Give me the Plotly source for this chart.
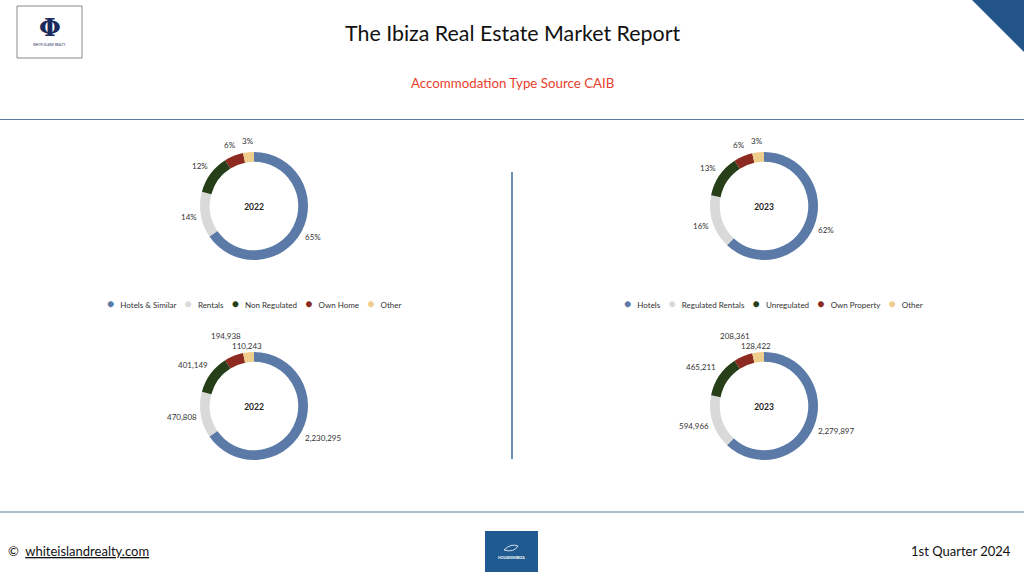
import math
import plotly.graph_objects as go

W, H = 1024, 576

labels_2022 = ["Hotels & Similar", "Rentals", "Non Regulated", "Own Home", "Other"]
values_2022 = [2230295, 470808, 401149, 194938, 110243]
labels_2023 = ["Hotels", "Regulated Rentals", "Unregulated", "Own Property", "Other"]
values_2023 = [2279897, 594966, 465211, 208361, 128422]
colors = ["#5B7AA7", "#D9D9D9", "#263F19", "#8C2A20", "#EFCD8C"]

title_text = "The Ibiza Real Estate Market Report"
subtitle_text = "Accommodation Type Source CAIB"
footer_left = "©  <u>whiteislandrealty.com</u>"
footer_right = "1st Quarter 2024"

FONT = "Lato, 'Open Sans', sans-serif"
R_OUT = 54
LBL_SIZE = 8


def px(x):
    return x / W


def py(y):
    return 1 - y / H


def dom(cx, cy, r=R_OUT):
    return dict(x=[px(cx - r), px(cx + r)], y=[py(cy + r), py(cy - r)])


def text_w(s):
    w = 0.0
    for ch in s:
        if ch.isdigit():
            w += 0.58
        elif ch == ",":
            w += 0.23
        elif ch == "%":
            w += 0.78
        else:
            w += 0.55
    return w * LBL_SIZE


fig = go.Figure()
annotations = []
shapes = []

pies = [
    (labels_2022, values_2022, "2022", 254, 206, "pct", 16),
    (labels_2023, values_2023, "2023", 764, 206, "pct", 16),
    (labels_2022, values_2022, "2022", 254, 406, "val", 20),
    (labels_2023, values_2023, "2023", 764, 406, "val", 20),
]
for lab, val, yr, cx, cy, mode, box_h in pies:
    fig.add_trace(go.Pie(
        labels=lab, values=val, hole=0.82, sort=False, direction="clockwise",
        rotation=0, domain=dom(cx, cy),
        marker=dict(colors=colors, line=dict(width=0)),
        textinfo="none",
        title=dict(text="<b>" + yr + "</b>", position="middle center",
                   font=dict(size=8.5, color="#222222", family=FONT)),
        showlegend=False, automargin=False,
    ))
    # data labels placed just outside each slice (computed from the values)
    total = float(sum(val))
    cum = 0.0
    items = []
    for v in val:
        frac = v / total
        mid = cum + frac / 2
        cum += frac
        th = 2 * math.pi * mid
        ux, uy = math.sin(th), -math.cos(th)
        txt = "%d%%" % round(frac * 100) if mode == "pct" else "{:,}".format(v)
        w = text_w(txt) + 1.5
        m = max(abs(ux), abs(uy))
        off = 4
        lx = cx + (R_OUT - 1 + off) * ux + (w / 2) * ux / m
        ly = cy + (R_OUT - 1 + off) * uy + (box_h / 2) * uy / m
        items.append([txt, lx, ly, w])
    # simple collision avoidance between neighbouring labels
    for i in range(len(items) - 1):
        a, b = items[i], items[i + 1]
        if abs(a[1] - b[1]) < (a[3] + b[3]) / 2 and abs(a[2] - b[2]) < 10:
            mean = (a[2] + b[2]) / 2
            a[2], b[2] = mean - 5, mean + 5
    for txt, lx, ly, w in items:
        annotations.append(dict(x=px(lx), y=py(ly), xref="paper", yref="paper",
                                text=txt, showarrow=False,
                                font=dict(size=LBL_SIZE, color="#333333", family=FONT),
                                xanchor="center", yanchor="middle"))


def legend_text(labs):
    parts = []
    for lab, c in zip(labs, colors):
        parts.append("<span style='color:%s;font-size:12px'>●</span>   %s" % (c, lab))
    return "    ".join(parts)


annotations.append(dict(x=px(254), y=py(303.5), xref="paper", yref="paper",
                        text=legend_text(labels_2022), showarrow=False,
                        font=dict(size=8, color="#333333", family=FONT),
                        xanchor="center", yanchor="middle"))
annotations.append(dict(x=px(773), y=py(303.5), xref="paper", yref="paper",
                        text=legend_text(labels_2023), showarrow=False,
                        font=dict(size=8, color="#333333", family=FONT),
                        xanchor="center", yanchor="middle"))

# Titles
annotations.append(dict(x=0.5, y=py(33), xref="paper", yref="paper", text=title_text,
                        showarrow=False, font=dict(size=21.4, color="#111111", family=FONT),
                        xanchor="center", yanchor="middle"))
annotations.append(dict(x=0.5, y=py(83), xref="paper", yref="paper", text=subtitle_text,
                        showarrow=False, font=dict(size=13.3, color="#E8402C", family=FONT),
                        xanchor="center", yanchor="middle"))

# Footer
annotations.append(dict(x=px(6), y=py(551), xref="paper", yref="paper", text=footer_left,
                        showarrow=False, font=dict(size=13, color="#111111", family=FONT),
                        xanchor="left", yanchor="middle"))
annotations.append(dict(x=px(1013), y=py(551), xref="paper", yref="paper", text=footer_right,
                        showarrow=False, font=dict(size=13, color="#111111", family=FONT),
                        xanchor="right", yanchor="middle"))

# Top-left logo
shapes.append(dict(type="rect", xref="paper", yref="paper", x0=px(17), x1=px(82), y0=py(58), y1=py(6),
                   line=dict(color="#8A8A8A", width=1), fillcolor="white"))
annotations.append(dict(x=px(49.5), y=py(27), xref="paper", yref="paper", text="<b>Φ</b>",
                        showarrow=False, font=dict(size=25, color="#1B2A5C", family="DejaVu Serif"),
                        xanchor="center", yanchor="middle"))
annotations.append(dict(x=px(49.5), y=py(45), xref="paper", yref="paper", text="WHITE ISLAND REALTY",
                        showarrow=False, font=dict(size=3, color="#1B2A5C", family=FONT),
                        xanchor="center", yanchor="middle"))

# Top-right triangle
shapes.append(dict(type="path", xref="paper", yref="paper",
                   path="M %f,%f L %f,%f L %f,%f Z" % (px(972), py(0), px(1024), py(0), px(1024), py(52)),
                   fillcolor="#22548A", line=dict(width=0)))

# Separator lines
shapes.append(dict(type="line", xref="paper", yref="paper", x0=0, x1=1, y0=py(119.5), y1=py(119.5),
                   line=dict(color="#5A7AA5", width=1.2)))
shapes.append(dict(type="line", xref="paper", yref="paper", x0=0, x1=1, y0=py(512), y1=py(512),
                   line=dict(color="#5A7AA5", width=1.2)))
shapes.append(dict(type="line", xref="paper", yref="paper", x0=px(512), x1=px(512), y0=py(172), y1=py(459),
                   line=dict(color="#3E67A0", width=1.5)))

# Bottom logo
shapes.append(dict(type="rect", xref="paper", yref="paper", x0=px(485), x1=px(538), y0=py(572), y1=py(531),
                   fillcolor="#1F5A90", line=dict(width=0)))
shapes.append(dict(type="path", xref="paper", yref="paper",
                   path="M %f,%f Q %f,%f %f,%f Q %f,%f %f,%f Z" % (
                       px(504), py(550), px(511), py(543), px(518), py(546),
                       px(514), py(553), px(504), py(550)),
                   fillcolor="rgba(0,0,0,0)", line=dict(color="white", width=0.8)))
annotations.append(dict(x=px(511.5), y=py(558), xref="paper", yref="paper", text="<b>HOUSESINIBIZA</b>",
                        showarrow=False, font=dict(size=3.5, color="white", family=FONT),
                        xanchor="center", yanchor="middle"))

fig.update_layout(
    width=W, height=H, margin=dict(l=0, r=0, t=0, b=0),
    paper_bgcolor="white", plot_bgcolor="white",
    annotations=annotations, shapes=shapes, showlegend=False,
    font=dict(family=FONT),
)

fig.write_html("out.html", config={"displayModeBar": False})
